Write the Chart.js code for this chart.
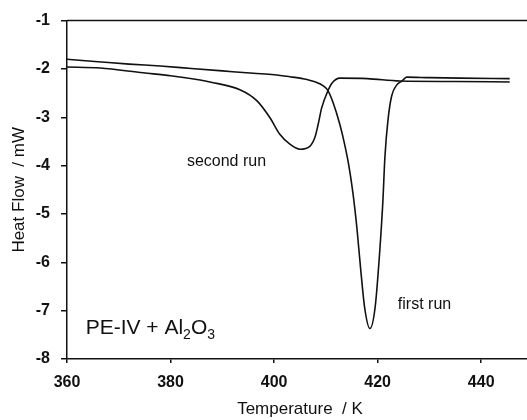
<!DOCTYPE html>
<html>
<head>
<meta charset="utf-8">
<script src="https://cdn.jsdelivr.net/npm/chart.js@4/dist/chart.umd.min.js"></script>
<style>
  html, body { margin: 0; padding: 0; background: #fff; overflow: hidden; }
  canvas { display: block; }
</style>
</head>
<body>
<canvas id="dsc" width="540" height="420"></canvas>
<script>
// Temperature (K) and heat flow (mW)
const firstRunT = [360, 366, 372, 378, 384, 390, 396, 400, 403, 405.5, 408, 409.5, 410.4, 411.4, 412.7,
  413.6, 414.4, 415.2, 416, 416.7, 417.5, 418.5, 419.5, 420.4, 421, 421.4, 422, 422.7, 423.7, 424.7,
  425.6, 430, 436, 445.5];
const firstRunHF = [-1.80, -1.85, -1.90, -1.94, -1.99, -2.04, -2.09, -2.12, -2.16, -2.20, -2.27, -2.35, -2.45, -2.70, -3.15,
  -3.55, -3.98, -4.55, -5.30, -6.12, -6.95, -7.37, -6.94, -5.77, -4.75, -3.82, -3.05, -2.56, -2.33, -2.25,
  -2.17, -2.18, -2.19, -2.20];

const secondRunT = [360, 366.4, 374.7, 380, 385.7, 387.6, 393.4, 396.7, 399.2, 401.1, 403.1, 405, 406.9,
  407.9, 408.5, 409.2, 410.4, 411.2, 412.7, 418, 424.3, 435, 445.5];
const secondRunHF = [-1.96, -1.98, -2.08, -2.14, -2.23, -2.27, -2.43, -2.66, -3.01, -3.35, -3.56, -3.66, -3.60,
  -3.41, -3.15, -2.80, -2.45, -2.29, -2.19, -2.20, -2.25, -2.26, -2.27];

const xTicks = [360, 380, 400, 420, 440];
const yTicks = [-8, -7, -6, -5, -4, -3, -2, -1];

const FONT = "'Liberation Sans', Arial, sans-serif";
const INK = '#111';

const toPoints = (xs, ys) => xs.map((x, i) => ({ x, y: ys[i] }));

// Top frame line plus the free-floating labels
const decorations = {
  id: 'decorations',
  afterDraw(chart) {
    const { ctx, chartArea, scales } = chart;
    const x = scales.x, y = scales.y;
    ctx.save();
    ctx.strokeStyle = INK;
    ctx.lineWidth = 1.5;
    ctx.beginPath();
    ctx.moveTo(chartArea.left, chartArea.top);
    ctx.lineTo(chartArea.right, chartArea.top);
    ctx.stroke();

    ctx.fillStyle = INK;
    ctx.textBaseline = 'middle';
    ctx.font = `16px ${FONT}`;
    ctx.textAlign = 'center';
    ctx.fillText('second run', x.getPixelForValue(390.8), y.getPixelForValue(-3.92));
    ctx.textAlign = 'left';
    ctx.fillText('first run', x.getPixelForValue(423.9), y.getPixelForValue(-6.88));

    // PE-IV + Al2O3 with subscripts
    let px = x.getPixelForValue(363.6);
    const py = y.getPixelForValue(-7.36);
    const parts = [['PE-IV + Al', false], ['2', true], ['O', false], ['3', true]];
    for (const [txt, sub] of parts) {
      ctx.font = sub ? `14px ${FONT}` : `21px ${FONT}`;
      ctx.fillText(txt, px, sub ? py + 7 : py);
      px += ctx.measureText(txt).width;
    }
    ctx.restore();
  }
};

new Chart(document.getElementById('dsc'), {
  type: 'line',
  data: {
    datasets: [
      { label: 'first run', data: toPoints(firstRunT, firstRunHF) },
      { label: 'second run', data: toPoints(secondRunT, secondRunHF) }
    ]
  },
  options: {
    responsive: false,
    animation: false,
    layout: { padding: { left: 0, top: 17, right: 7, bottom: 0 } },
    elements: {
      point: { radius: 0 },
      line: { borderColor: INK, borderWidth: 1.6, cubicInterpolationMode: 'monotone', fill: false }
    },
    plugins: { legend: { display: false }, tooltip: { enabled: false } },
    scales: {
      x: {
        type: 'linear',
        min: 360,
        max: 450,
        afterFit: s => { s.height = 61; },
        afterBuildTicks: s => { s.ticks = xTicks.map(value => ({ value })); },
        ticks: { color: INK, font: { family: FONT, size: 16, weight: 'bold' }, padding: 10, maxRotation: 0 },
        grid: { drawOnChartArea: false, drawTicks: true, tickLength: 4, color: INK, lineWidth: 1.5 },
        border: { display: true, color: INK, width: 1.5 },
        title: { display: true, text: 'Temperature  / K', color: INK, font: { family: FONT, size: 17 }, padding: { top: 0, bottom: 0 } }
      },
      y: {
        type: 'linear',
        min: -8,
        max: -1,
        afterFit: s => { s.width = 67; },
        afterBuildTicks: s => { s.ticks = yTicks.map(value => ({ value })); },
        ticks: { color: INK, font: { family: FONT, size: 16, weight: 'bold' }, padding: 11 },
        grid: { drawOnChartArea: false, drawTicks: true, tickLength: 6, color: INK, lineWidth: 1.5 },
        border: { display: true, color: INK, width: 1.5 },
        title: { display: true, text: 'Heat Flow  / mW', color: INK, font: { family: FONT, size: 17 }, padding: { top: 9, bottom: 0 } }
      }
    }
  },
  plugins: [decorations]
});
</script>
</body>
</html>
